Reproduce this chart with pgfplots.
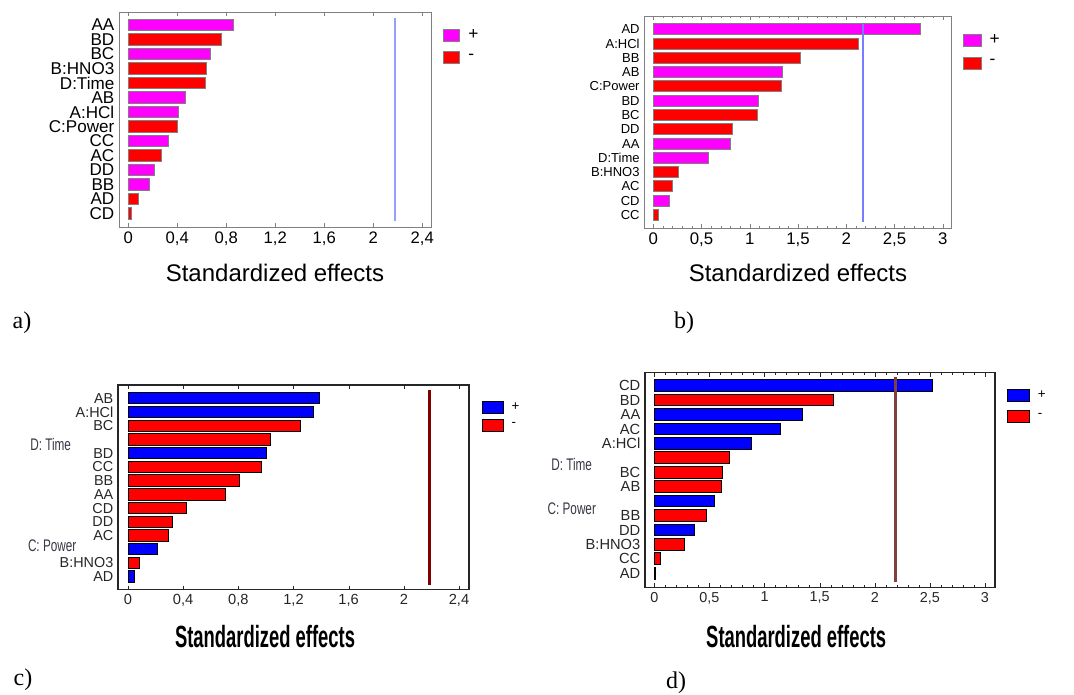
\documentclass[border=0pt]{standalone}
\usepackage{fontspec}
\setmainfont{Liberation Sans}
\newfontfamily\timesf{Liberation Serif}
\usepackage{graphicx}
\usepackage{pgfplots}
\pgfplotsset{compat=1.18}

\definecolor{mag}{RGB}{255,0,255}
\definecolor{rd}{RGB}{255,0,0}
\definecolor{bl}{RGB}{0,0,255}
\definecolor{lnA}{RGB}{150,158,255}
\definecolor{lnB}{RGB}{120,125,255}
\definecolor{lnC}{RGB}{128,0,0}
\definecolor{lnD}{RGB}{128,64,64}
\definecolor{oddlab}{RGB}{55,55,70}

\pgfplotsset{
  pareto/.style={
    scale only axis,
    anchor=north west,
    y dir=reverse,
    ytick={0,...,13},
    ytick style={draw=none},
    tick align=inside,
    major tick length=3pt,
    minor tick length=1.8pt,
    /pgf/number format/use comma,
    /pgf/number format/assume math mode=true,
    legend cell align=left,
    legend style={draw=none, fill=none, anchor=north west, inner sep=0pt,
      outer sep=0pt, row sep=6.4pt, nodes={inner sep=1pt},
      /tikz/every odd column/.append style={column sep=5pt}},
  },
  swatch/.style n args={3}{legend image code/.code={
      \draw[##1,draw=#3,line width=0.75pt] (0pt,-4.5pt) rectangle (#1,#2);}},
  bars/.style n args={2}{xbar, bar shift=0pt, bar width=#1, draw=#2, line width=0.75pt},
}

\begin{document}
\begin{tikzpicture}
\path[use as bounding box] (0,0) rectangle (805.5pt,-521.25pt);

% ---------- a)
\begin{axis}[pareto,
  at={(89.25pt,-9pt)}, width=234pt, height=161.25pt,
  xmin=-0.076, xmax=2.471, ymin=-0.9, ymax=13.94,
  xtick={0,0.4,0.8,1.2,1.6,2,2.4},
  axis line style={draw=gray}, xtick style={draw=gray},
  yticklabels={AA,BD,BC,B:HNO3,D:Time,AB,A:HCl,C:Power,CC,AC,DD,BB,AD,CD},
  yticklabel style={font=\fontsize{12.8}{13}\selectfont},
  xticklabel style={font=\fontsize{12.5}{12.5}\selectfont},
  xlabel={Standardized effects},
  xlabel style={at={(axis description cs:0.5,-0.214)}, anchor=center,
    font=\fontsize{18}{18}\selectfont},
  legend style={at={(axis description cs:1.0375,0.925)},
    font=\fontsize{13}{13}\selectfont},
]
\addplot[bars={8.8pt}{gray}, fill=mag, swatch={12.5pt}{4.5pt}{gray}]
  coordinates {(0.860,0) (0.670,2) (0.468,5) (0.406,6) (0.327,8) (0.210,10) (0.175,11)};
\addplot[bars={8.8pt}{gray}, fill=rd, swatch={12.5pt}{4.5pt}{gray}]
  coordinates {(0.762,1) (0.640,3) (0.634,4) (0.403,7) (0.267,9) (0.087,12) (0.024,13)};
\addplot[draw=lnA, line width=1.4pt, mark=none, forget plot]
  coordinates {(2.179,-0.46) (2.179,13.5)};
\legend{+,-}
\end{axis}

% ---------- b)
\begin{axis}[pareto,
  at={(483.2pt,-12pt)}, width=230.55pt, height=159.2pt,
  xmin=-0.093, xmax=3.093, ymin=-0.93, ymax=13.93,
  xtick={0,0.5,1,1.5,2,2.5,3}, minor x tick num=4,
  axis line style={draw=gray}, xtick style={draw=gray},
  yticklabels={AD,A:HCl,BB,AB,C:Power,BD,BC,DD,AA,D:Time,B:HNO3,AC,CD,CC},
  yticklabel style={font=\fontsize{9.75}{10}\selectfont},
  xticklabel style={font=\fontsize{12.6}{12.6}\selectfont},
  xlabel={Standardized effects},
  xlabel style={at={(axis description cs:0.5,-0.212)}, anchor=center,
    font=\fontsize{18}{18}\selectfont},
  legend style={at={(axis description cs:1.0378,0.918)},
    font=\fontsize{13}{13}\selectfont},
]
\addplot[bars={8.25pt}{gray}, fill=mag, swatch={13pt}{4.5pt}{gray}]
  coordinates {(2.772,0) (1.341,3) (1.096,5) (0.805,8) (0.570,9) (0.170,12)};
\addplot[bars={8.25pt}{gray}, fill=rd, swatch={13pt}{4.5pt}{gray}]
  coordinates {(2.125,1) (1.524,2) (1.334,4) (1.082,6) (0.826,7) (0.259,10) (0.201,11) (0.052,13)};
\addplot[draw=lnB, line width=1.4pt, mark=none, forget plot]
  coordinates {(2.177,-0.37) (2.177,13.47)};
\legend{+,-}
\end{axis}

% ---------- c)
\begin{axis}[pareto,
  at={(88.5pt,-288.75pt)}, width=263.25pt, height=153.5pt,
  xmin=-0.0725, xmax=2.4725, ymin=-0.97, ymax=13.95,
  xtick={0,0.4,0.8,1.2,1.6,2,2.4},
  axis line style={draw=black!85, line width=0.9pt}, xtick style={draw=black!85},
  yticklabels={AB,A:HCl,BC,{},BD,CC,BB,AA,CD,DD,AC,{},B:HNO3,AD},
  yticklabel style={font=\fontsize{10.8}{10.8}\selectfont, text=black!85},
  xticklabel style={font=\fontsize{11}{11}\selectfont, text=black!85},
  xlabel={\scalebox{0.6}[1]{\bfseries Standardized effects}},
  xlabel style={at={(axis description cs:0.419,-0.2296)}, anchor=center,
    font=\fontsize{23}{23}\selectfont},
  legend style={at={(axis description cs:1.036,0.922)},
    font=\fontsize{10}{10}\selectfont, row sep=4pt},
]
\addplot[bars={8.5pt}{black}, fill=bl, swatch={15.75pt}{4.5pt}{black}]
  coordinates {(1.392,0) (1.347,1) (1.003,4) (0.213,11) (0.046,13)};
\addplot[bars={8.5pt}{black}, fill=rd, swatch={15.75pt}{4.5pt}{black}]
  coordinates {(1.250,2) (1.030,3) (0.969,5) (0.810,6) (0.706,7) (0.423,8) (0.324,9) (0.292,10) (0.080,12)};
\addplot[draw=lnC, line width=2.25pt, mark=none, forget plot]
  coordinates {(2.183,-0.6) (2.183,13.6)};
\legend{+,-}
\end{axis}

% ---------- d)
\begin{axis}[pareto,
  at={(483.75pt,-279.5pt)}, width=262.5pt, height=160.95pt,
  xmin=-0.085, xmax=3.091, ymin=-0.9, ymax=13.97,
  xtick={0,0.5,1,1.5,2,2.5,3}, minor x tick num=4,
  axis line style={draw=black!85, line width=0.9pt}, xtick style={draw=black!85},
  yticklabels={CD,BD,AA,AC,A:HCl,{},BC,AB,{},BB,DD,B:HNO3,CC,AD},
  yticklabel style={font=\fontsize{11}{11}\selectfont, text=black!85},
  xticklabel style={font=\fontsize{10.8}{10.8}\selectfont, text=black!85},
  xlabel={\scalebox{0.6}[1]{\bfseries Standardized effects}},
  xlabel style={at={(axis description cs:0.432,-0.230)}, anchor=center,
    font=\fontsize{23}{23}\selectfont},
  legend style={at={(axis description cs:1.035,0.924)},
    font=\fontsize{10}{10}\selectfont, row sep=5.8pt},
]
\addplot[bars={8.8pt}{black}, fill=bl, swatch={16.25pt}{4.5pt}{black}]
  coordinates {(2.523,0) (1.347,2) (1.147,3) (0.884,4) (0.542,8) (0.366,10) (0.012,13)};
\addplot[bars={8.8pt}{black}, fill=rd, swatch={16.25pt}{4.5pt}{black}]
  coordinates {(1.628,1) (0.684,5) (0.620,6) (0.608,7) (0.475,9) (0.275,11) (0.058,12)};
\addplot[draw=lnD, line width=2.25pt, mark=none, forget plot]
  coordinates {(2.19,-0.62) (2.19,13.58)};
\legend{+,-}
\end{axis}

% odd labels drawn beside the axes
\begin{scope}[every node/.style={anchor=west, inner sep=0pt, text=oddlab,
    font=\fontsize{12.6}{12.6}\selectfont}]
\node at (22.5pt,-333pt) {\scalebox{0.7}[1]{D: Time}};
\node at (20.8pt,-409.3pt) {\scalebox{0.7}[1]{C: Power}};
\node at (413.25pt,-348.2pt) {\scalebox{0.7}[1]{D: Time}};
\node at (410.5pt,-381.2pt) {\scalebox{0.7}[1]{C: Power}};
\end{scope}

% panel letters
\begin{scope}[every node/.style={inner sep=0pt, font=\timesf\fontsize{18}{18}\selectfont}]
\node at (16.5pt,-242.25pt) {a)};
\node at (513pt,-242.25pt) {b)};
\node at (17.25pt,-510pt) {c)};
\node at (507pt,-512.25pt) {d)};
\end{scope}
\end{tikzpicture}
\end{document}
